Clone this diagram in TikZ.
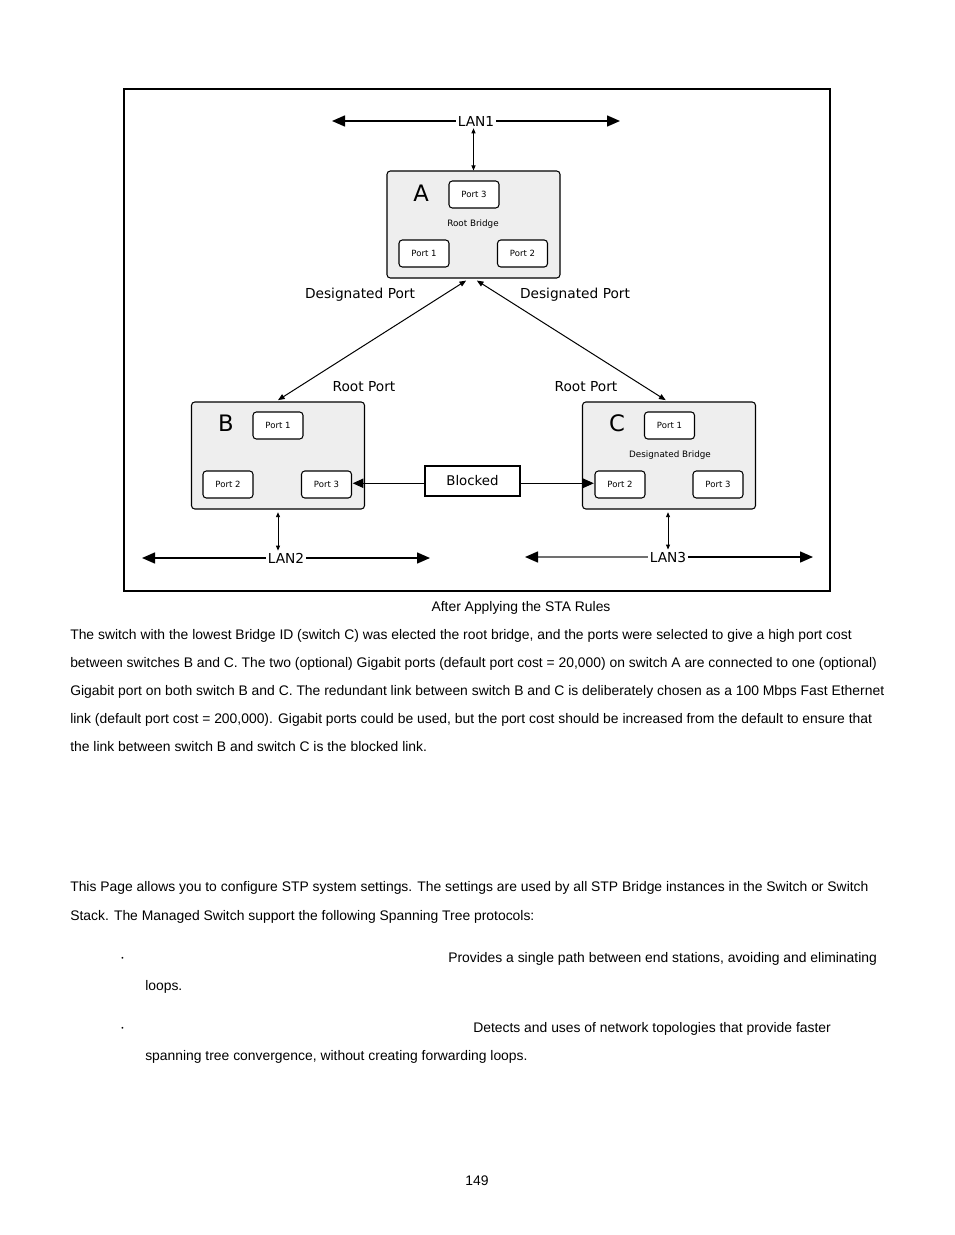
\documentclass[tikz,border=0pt]{standalone}
\usepackage{fontspec}
\setmainfont{Liberation Sans}
\newfontfamily\djv{DejaVu Sans}
\usetikzlibrary{arrows.meta,calc}
\definecolor{swfill}{HTML}{EEEEEE}
\definecolor{langray}{HTML}{707070}
\begin{document}
\begin{tikzpicture}[x=0.75pt,y=-0.75pt,
  sw/.style={draw, fill=swfill, rounded corners=2.5pt, line width=0.8pt, minimum width=129.75pt, minimum height=80.25pt, inner sep=0pt},
  portbox/.style={draw, fill=white, rounded corners=2.5pt, line width=0.8pt, minimum width=37.5pt, minimum height=20.25pt, inner sep=0pt, font=\djv\fontsize{6.4}{7}\selectfont},
  lbl/.style={font=\djv\fontsize{10.3}{12}\selectfont, inner sep=1.5pt},
  bigletter/.style={font=\djv\fontsize{17}{20}\selectfont, inner sep=0pt},
  smalllbl/.style={font=\djv\fontsize{6.6}{8}\selectfont, inner sep=0pt},
  body/.style={anchor=base west, inner sep=0pt, font=\fontsize{10.42}{12}\selectfont},
  lan/.style={line width=1.1pt, -{Triangle[length=9.75pt,width=8.25pt]}},
  vthin/.style={line width=0.7pt, {Triangle[length=3.75pt,width=3pt]}-{Triangle[length=3.75pt,width=3pt]}},
  diag/.style={line width=0.75pt, {Triangle[length=5pt,width=4pt]}-{Triangle[length=5pt,width=4pt]}},
  blk/.style={line width=0.8pt, -{Triangle[length=8pt,width=7pt]}}]
\useasboundingbox[fill=white] (0,0) rectangle (954,1235);
% frame
\draw[line width=1.1pt] (124,89) rectangle (830,591);
% LAN1
\node[lbl] (lan1) at (476,121) {LAN1};
\coordinate (lan1l) at (332,121);
\coordinate (lan1r) at (620,121);
\draw[lan] (lan1.west) -- (lan1l);
\draw[lan] (lan1.east) -- (lan1r);
% switch A
\node[sw] (A) at (473.5,224.5) {};
\node[bigletter] (Alet) at (421,193) {A};
\node[portbox] (A3) at (474,194.5) {Port 3};
\node[smalllbl] (Arb) at (473,224) {Root Bridge};
\node[portbox] (A1) at (424,253.5) {Port 1};
\node[portbox] (A2) at (522.5,253.5) {Port 2};
\draw[vthin] (A.north |- lan1.south) -- (A.north);
% switch B
\node[sw] (B) at (278,455.5) {};
\node[bigletter] (Blet) at (226,423) {B};
\node[portbox] (B1) at (278,425.5) {Port 1};
\node[portbox] (B2) at (228,484.5) {Port 2};
\node[portbox] (B3) at (326.5,484.5) {Port 3};
% switch C
\node[sw] (C) at (669,455.5) {};
\node[bigletter] (Clet) at (617,423) {C};
\node[portbox] (C1) at (669.5,425.5) {Port 1};
\node[smalllbl] (Cdb) at (670,455) {Designated Bridge};
\node[portbox] (C2) at (620,484.5) {Port 2};
\node[portbox] (C3) at (718,484.5) {Port 3};
% labels
\node[lbl] (dpl) at (360,295) {Designated Port};
\node[lbl] (dpr) at (575,295) {Designated Port};
\node[lbl] (rpl) at (364,387) {Root Port};
\node[lbl] (rpr) at (586,387) {Root Port};
% diagonal links
\draw[diag] ([xshift=-5.5pt,yshift=-1.5pt]A.south) -- ([yshift=1pt]B.north);
\draw[diag] ([xshift=2.5pt,yshift=-1.5pt]A.south) -- ([xshift=-2.5pt,yshift=1pt]C.north);
% blocked
\node[draw, line width=0.8pt, minimum width=71.25pt, minimum height=22.5pt, inner sep=0pt, font=\djv\fontsize{10}{12}\selectfont] (blk) at (472.5,481) {Blocked};
\draw[blk] ([yshift=-1.7pt]blk.west) -- ([yshift=-1.7pt,xshift=0.5pt]blk.west -| B3.east);
\draw[blk] ([yshift=-1.7pt]blk.east) -- ([yshift=-1.7pt,xshift=-0.5pt]blk.east -| C2.west);
% LAN2
\node[lbl] (lan2) at (286,558) {LAN2};
\coordinate (lan2l) at (142,558);
\coordinate (lan2r) at (430,558);
\draw[lan] (lan2.west) -- (lan2l);
\draw[lan] (lan2.east) -- (lan2r);
\draw[vthin] ([yshift=-2pt]B.south) -- (B.south |- lan2.north);
% LAN3
\node[lbl] (lan3) at (668,557) {LAN3};
\coordinate (lan3l) at (525,557);
\coordinate (lan3r) at (813,557);
\draw[line width=1.1pt, draw=langray, -{Triangle[length=9.75pt,width=8.25pt,color=black]}] (lan3.west) -- (lan3l);
\draw[lan] (lan3.east) -- (lan3r);
\draw[vthin] ([yshift=-2pt,xshift=-0.75pt]C.south) -- ([xshift=-0.75pt]C.south |- lan3.north);
% caption and body text
\node[body, anchor=base] (cap) at (521,611.5) {After Applying the STA Rules};
\node[body] (p1) at (70,639.5) {The switch with the lowest Bridge ID (switch C) was elected the root bridge, and the ports were selected to give a high port cost};
\node[body] (p2) at (70,667.5) {between switches B and C. The two (optional) Gigabit ports (default port cost = 20,000) on switch A are connected to one (optional)};
\node[body] (p3) at (70,695.5) {Gigabit port on both switch B and C. The redundant link between switch B and C is deliberately chosen as a 100 Mbps Fast Ethernet};
\node[body] (p4) at (70,723.5) {link (default port cost = 200,000). Gigabit ports could be used, but the port cost should be increased from the default to ensure that};
\node[body] (p5) at (70,751.5) {the link between switch B and switch C is the blocked link.};
\node[body] (q1) at (70,891.5) {This Page allows you to configure STP system settings. The settings are used by all STP Bridge instances in the Switch or Switch};
\node[body] (q2) at (70,920) {Stack. The Managed Switch support the following Spanning Tree protocols:};
\node[body, font=\fontsize{5}{6}\selectfont] (b1) at (121,960) {•};
\node[body] (r1) at (448,962) {Provides a single path between end stations, avoiding and eliminating};
\node[body] (r2) at (145,990) {loops.};
\node[body, font=\fontsize{5}{6}\selectfont] (b2) at (121,1030) {•};
\node[body] (s1) at (473,1032) {Detects and uses of network topologies that provide faster};
\node[body] (s2) at (145,1060) {spanning tree convergence, without creating forwarding loops.};
\node[body, anchor=base] (pg) at (477,1185) {149};
\end{tikzpicture}
\end{document}
